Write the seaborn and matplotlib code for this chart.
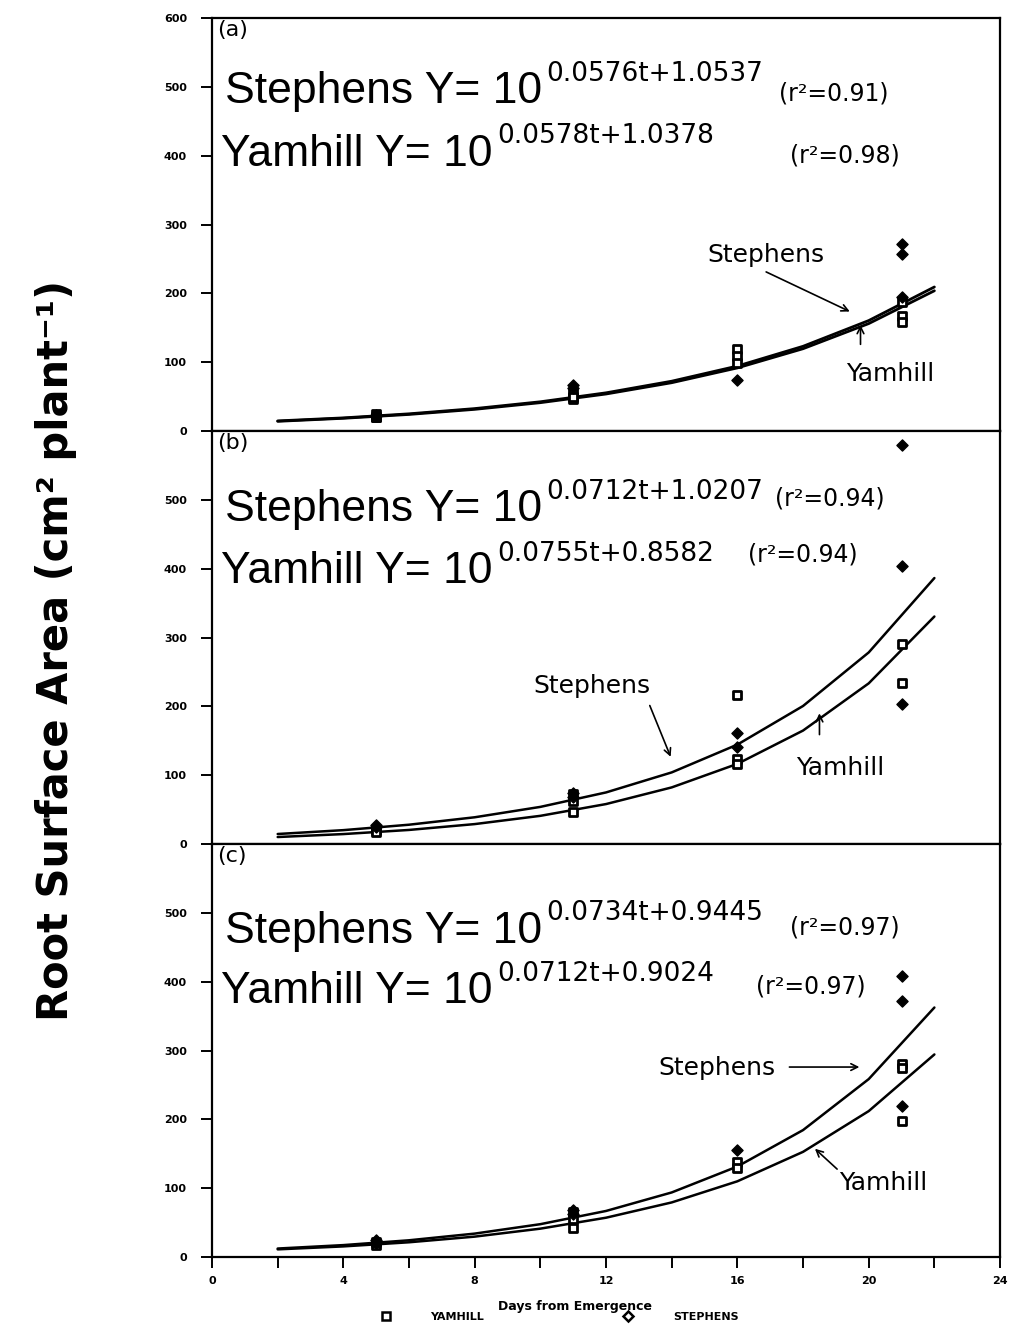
import numpy as np
import pandas as pd
import matplotlib
matplotlib.use("Agg")
import matplotlib.pyplot as plt
from matplotlib.lines import Line2D
import seaborn as sns

# fitted curves, read at every second day
curve_days = [2, 4, 6, 8, 10, 12, 14, 16, 18, 20, 22]
a_steph_fit = [14.8, 19.2, 25.1, 32.7, 42.6, 55.6, 72.5, 94.5, 123.2, 160.6, 209.4]
a_yam_fit = [14.2, 18.6, 24.2, 31.6, 41.3, 53.9, 70.3, 91.8, 119.7, 156.2, 203.9]
b_steph_fit = [14.6, 20.2, 28.1, 38.9, 54.0, 75.0, 104.1, 144.5, 200.6, 278.4, 386.5]
b_yam_fit = [10.2, 14.5, 20.5, 29.0, 41.0, 58.1, 82.3, 116.5, 164.9, 233.5, 330.6]
c_steph_fit = [12.3, 17.3, 24.3, 34.0, 47.7, 66.9, 93.8, 131.5, 184.4, 258.5, 362.5]
c_yam_fit = [11.1, 15.4, 21.4, 29.6, 41.2, 57.1, 79.3, 110.0, 152.8, 212.0, 294.3]

# observations
a_yam_day = [5, 5, 5, 11, 11, 11, 16, 16, 16, 21, 21, 21]
a_yam_val = [21, 25, 20, 55, 47, 50, 119, 109, 99, 188, 167, 158]
a_steph_day = [5, 5, 11, 11, 16, 21, 21, 21]
a_steph_val = [24, 22, 67, 62, 74, 272, 257, 195]

b_yam_day = [5, 5, 11, 11, 11, 16, 16, 16, 21, 21]
b_yam_val = [20, 17, 72, 63, 46, 217, 124, 117, 290, 234]
b_steph_day = [5, 5, 11, 11, 16, 16, 21, 21, 21]
b_steph_val = [28, 25, 68, 74, 161, 141, 580, 404, 204]

c_yam_day = [5, 5, 11, 11, 11, 16, 16, 21, 21, 21]
c_yam_val = [17, 22, 65, 55, 42, 138, 130, 280, 275, 197]
c_steph_day = [5, 5, 11, 11, 16, 21, 21, 21]
c_steph_val = [24, 20, 62, 68, 155, 409, 372, 219]

panel_tags = ["(a)", "(b)", "(c)"]
steph_exp = ["0.0576t+1.0537", "0.0712t+1.0207", "0.0734t+0.9445"]
yam_exp = ["0.0578t+1.0378", "0.0755t+0.8582", "0.0712t+0.9024"]
steph_r2 = ["(r²=0.91)", "(r²=0.94)", "(r²=0.97)"]
yam_r2 = ["(r²=0.98)", "(r²=0.94)", "(r²=0.97)"]

sns.set_theme(style="white")
plt.rcParams['font.family'] = ['Liberation Sans', 'DejaVu Sans']
plt.rcParams['text.color'] = 'black'
plt.rcParams['axes.labelcolor'] = 'black'
plt.rcParams['xtick.color'] = 'black'
plt.rcParams['ytick.color'] = 'black'
plt.rcParams['axes.edgecolor'] = 'black'
plt.rcParams['axes.linewidth'] = 1.6

fig = plt.figure(figsize=(10.12, 13.24), dpi=100)
left, width, height = 0.2095, 0.7787, 0.3119
bottoms = [0.6744, 0.3625, 0.0506]
axes = [fig.add_axes([left, b, width, height]) for b in bottoms]

fits = [(a_steph_fit, a_yam_fit), (b_steph_fit, b_yam_fit), (c_steph_fit, c_yam_fit)]
obs = [((a_yam_day, a_yam_val), (a_steph_day, a_steph_val)),
       ((b_yam_day, b_yam_val), (b_steph_day, b_steph_val)),
       ((c_yam_day, c_yam_val), (c_steph_day, c_steph_val))]

# text positions in axes fraction: (main y, r2 x, r2 y)
steph_pos = [(0.794, 0.72, 0.80), (0.782, 0.715, 0.82), (0.761, 0.733, 0.78)]
yam_pos = [(0.643, 0.733, 0.65), (0.632, 0.68, 0.685), (0.615, 0.69, 0.637)]
sup_font = dict(fontsize=19, family='DejaVu Sans')
r2_font = dict(fontsize=17, family='DejaVu Sans')

for i, ax in enumerate(axes):
    s_fit, y_fit = fits[i]
    fit_df = pd.DataFrame({
        'day': curve_days * 2,
        'area': list(s_fit) + list(y_fit),
        'cultivar': ['Stephens'] * len(curve_days) + ['Yamhill'] * len(curve_days),
    })
    sns.lineplot(data=fit_df, x='day', y='area', hue='cultivar',
                 palette={'Stephens': 'black', 'Yamhill': 'black'},
                 linewidth=2.0 if i == 0 else 1.8, legend=False, ax=ax)

    (yd, yv), (sd, sv) = obs[i]
    sns.scatterplot(x=yd, y=yv, marker='s', s=40, facecolor='white',
                    edgecolor='black', linewidth=2.0, ax=ax, zorder=3)
    sns.scatterplot(x=sd, y=sv, marker='D', s=32, color='black',
                    edgecolor='black', linewidth=1.0, ax=ax, zorder=3)

    ax.set_xlim(0, 24)
    ax.set_ylim(0, 600)
    ax.set_xlabel('')
    ax.set_ylabel('')
    if i == 0:
        ax.set_yticks(range(0, 700, 100))
    else:
        ax.set_yticks(range(0, 600, 100))
    ax.tick_params(axis='y', direction='out', length=8, width=1.4, left=True,
                   labelsize=8, pad=10)
    for lab in ax.get_yticklabels():
        lab.set_fontweight('bold')
        lab.set_family('DejaVu Sans')
    if i < 2:
        ax.set_xticks([])
    for sp in ax.spines.values():
        sp.set_visible(True)
        sp.set_color('black')

    ax.text(0.006, 0.995, panel_tags[i], transform=ax.transAxes, fontsize=16,
            family='DejaVu Sans', ha='left', va='top')

    m, rx, ry = steph_pos[i]
    t1 = ax.text(0.016, m, "Stephens Y= 10", transform=ax.transAxes, fontsize=32)
    ax.annotate(steph_exp[i], xy=(1, 1), xycoords=t1, xytext=(3, -7),
                textcoords='offset points', ha='left', va='baseline', **sup_font)
    ax.text(rx, ry, steph_r2[i], transform=ax.transAxes, **r2_font)

    m, rx, ry = yam_pos[i]
    t2 = ax.text(0.012, m, "Yamhill Y= 10", transform=ax.transAxes, fontsize=32)
    ax.annotate(yam_exp[i], xy=(1, 1), xycoords=t2, xytext=(3, -7),
                textcoords='offset points', ha='left', va='baseline', **sup_font)
    ax.text(rx, ry, yam_r2[i], transform=ax.transAxes, **r2_font)

arrow = dict(arrowstyle='->', lw=1.2, color='black')
lab_font = dict(fontsize=18, family='DejaVu Sans')
# panel (a)
axes[0].text(15.1, 245, "Stephens", **lab_font)
axes[0].annotate('', xy=(19.5, 172), xytext=(16.8, 233), arrowprops=arrow)
axes[0].text(19.3, 73, "Yamhill", **lab_font)
axes[0].annotate('', xy=(19.75, 158), xytext=(19.75, 122), arrowprops=arrow)
# panel (b)
axes[1].text(9.8, 220, "Stephens", **lab_font)
axes[1].annotate('', xy=(14.0, 123), xytext=(13.3, 205), arrowprops=arrow)
axes[1].text(17.8, 100, "Yamhill", **lab_font)
axes[1].annotate('', xy=(18.5, 194), xytext=(18.5, 155), arrowprops=arrow)
# panel (c)
axes[2].text(13.6, 264, "Stephens", **lab_font)
axes[2].annotate('', xy=(19.8, 276), xytext=(17.5, 276), arrowprops=arrow)
axes[2].text(19.1, 97, "Yamhill", **lab_font)
axes[2].annotate('', xy=(18.3, 160), xytext=(19.1, 125), arrowprops=arrow)

ax = axes[2]
ax.set_xticks(range(0, 25, 4))
ax.set_xticks(range(0, 25, 2), minor=True)
ax.tick_params(axis='x', which='both', direction='out', length=8, width=1.4,
               bottom=True, labelsize=8, pad=6)
for lab in ax.get_xticklabels():
    lab.set_fontweight('bold')
    lab.set_family('DejaVu Sans')
ax.set_xlabel("Days from Emergence", fontsize=9, fontweight='bold',
              family='DejaVu Sans', labelpad=6)
ax.xaxis.set_label_coords(0.46, -0.105)

handles = [Line2D([], [], marker='s', linestyle='', markerfacecolor='white',
                  markeredgecolor='black', markersize=6, markeredgewidth=1.8),
           Line2D([], [], marker='D', linestyle='', markerfacecolor='white',
                  markeredgecolor='black', markersize=5, markeredgewidth=1.8)]
fig.legend(handles, ['YAMHILL', 'STEPHENS'], loc='lower center',
           bbox_to_anchor=(0.55, -0.006), ncol=2, frameon=False,
           prop={'size': 8, 'weight': 'bold', 'family': 'DejaVu Sans'},
           columnspacing=12, handletextpad=3)

fig.text(0.055, 0.509, "Root Surface Area (cm² plant⁻¹)", rotation=90,
         fontsize=30, fontweight='bold', family='DejaVu Sans',
         ha='center', va='center')

fig.savefig("out.png", dpi=100)
